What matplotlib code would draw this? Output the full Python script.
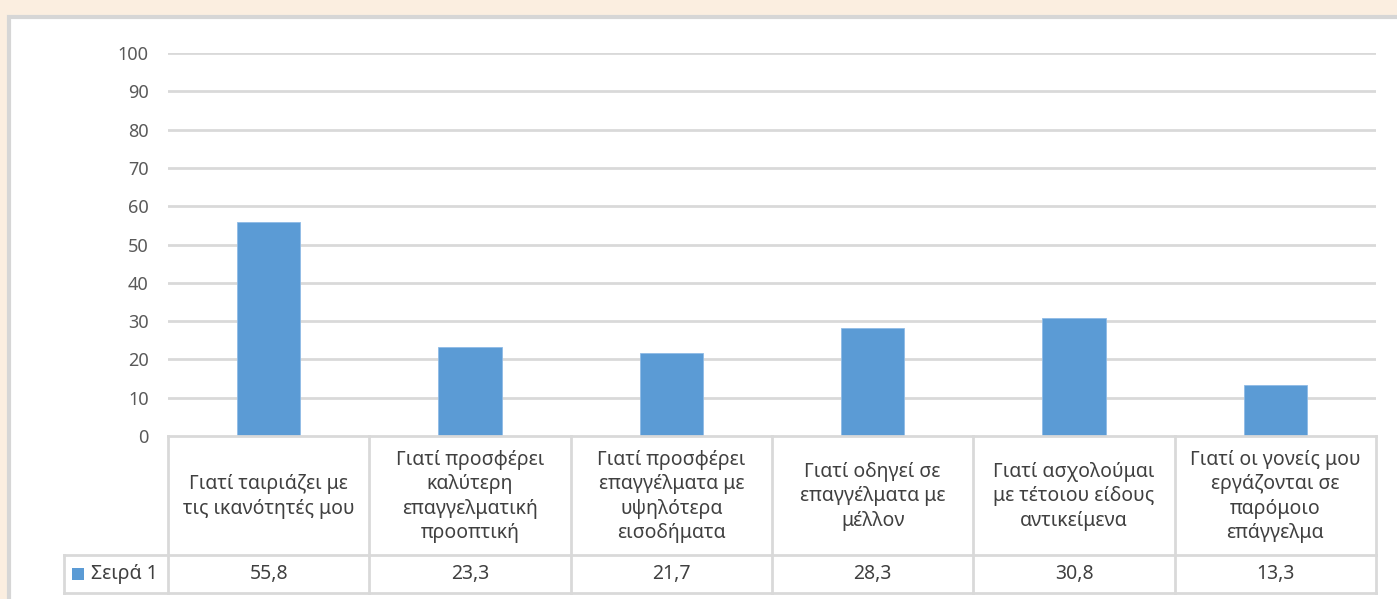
import matplotlib.pyplot as plt
from matplotlib.patches import Rectangle
import numpy as np

# data
categories = [
    'Γιατί ταιριάζει με\nτις ικανότητές μου',
    'Γιατί προσφέρει\nκαλύτερη\nεπαγγελματική\nπροοπτική',
    'Γιατί προσφέρει\nεπαγγέλματα με\nυψηλότερα\nεισοδήματα',
    'Γιατί οδηγεί σε\nεπαγγέλματα με\nμέλλον',
    'Γιατί ασχολούμαι\nμε τέτοιου είδους\nαντικείμενα',
    'Γιατί οι γονείς μου\nεργάζονται σε\nπαρόμοιο\nεπάγγελμα',
]
values = [55.8, 23.3, 21.7, 28.3, 30.8, 13.3]
series_name = 'Σειρά 1'
yticks = [0, 10, 20, 30, 40, 50, 60, 70, 80, 90, 100]

plt.rcParams['font.family'] = ['Noto Sans', 'Open Sans', 'DejaVu Sans']

W, H = 1397, 599
bar_color = '#5b9bd5'
grid_color = '#d9d9d9'
text_color = '#404040'

fig = plt.figure(figsize=(W / 100, H / 100), dpi=100)
fig.patch.set_facecolor('#fbeee0')


def px_rect(x0, y0, x1, y1):
    # pixel box (top-left origin) -> figure fraction
    return [x0 / W, 1 - y1 / H, (x1 - x0) / W, (y1 - y0) / H]


# white chart panel (background axes)
bg = fig.add_axes([0, 0, 1, 1], zorder=-1)
bg.set_xlim(0, W)
bg.set_ylim(H, 0)
bg.axis('off')
bg.add_patch(Rectangle((9, 17), W, H, facecolor='white',
                       edgecolor='#d6d6d6', linewidth=3))

# plot area
x_left, x_right = 168, 1376
y_top, y_zero = 53, 436
ax = fig.add_axes(px_rect(x_left, y_top, x_right, y_zero))
ax.set_facecolor('none')
n = len(values)
x = np.arange(n)
ax.bar(x, values, width=0.315, color=bar_color, edgecolor='#8fbbe6',
       linewidth=0.6, zorder=3)
ax.set_xlim(-0.5, n - 0.5)
ax.set_ylim(0, 100)
ax.set_yticks(yticks)
ax.set_yticklabels([str(t) for t in yticks], fontsize=13, color='#595959')
ax.tick_params(axis='y', length=0, pad=14)
ax.set_xticks([])
for t in yticks[1:]:
    ax.axhline(t, color=grid_color, linewidth=2, zorder=1)
for s in ax.spines.values():
    s.set_visible(False)

# data table under the plot
tb_left, tb_mid, tb_bottom = 64, 555, 593
tax = fig.add_axes(px_rect(tb_left, y_zero, x_right, tb_bottom))
tax.set_facecolor('none')
tax.axis('off')
unit = (x_right - x_left) / n
left_x = -0.5 - (x_left - tb_left) / unit
tax.set_xlim(left_x, n - 0.5)
tax.set_ylim(tb_bottom, y_zero)
lkw = dict(color=grid_color, linewidth=2, solid_capstyle='projecting',
           clip_on=False)
tax.plot([-0.5, n - 0.5], [y_zero, y_zero], **lkw)
tax.plot([left_x, n - 0.5], [tb_mid, tb_mid], **lkw)
tax.plot([left_x, n - 0.5], [tb_bottom, tb_bottom], **lkw)
tax.plot([left_x, left_x], [tb_mid, tb_bottom], **lkw)
for i in range(n + 1):
    tax.plot([i - 0.5, i - 0.5], [y_zero, tb_bottom], **lkw)
for i, (c, v) in enumerate(zip(categories, values)):
    tax.text(i, (y_zero + tb_mid) / 2 + 1, c, ha='center', va='center',
             fontsize=14, color=text_color, linespacing=1.3)
    tax.text(i, (tb_mid + tb_bottom) / 2, f'{v:.1f}'.replace('.', ','),
             ha='center', va='center', fontsize=14, color=text_color)
# legend key in the table
key_x = left_x + 8 / unit
tax.add_patch(Rectangle((key_x, 568), 12 / unit, 12, facecolor=bar_color,
                        edgecolor='none', clip_on=False))
tax.text(key_x + 19 / unit, (tb_mid + tb_bottom) / 2, series_name,
         ha='left', va='center', fontsize=14, color=text_color)

fig.savefig('out.png', dpi=100, facecolor=fig.get_facecolor())
